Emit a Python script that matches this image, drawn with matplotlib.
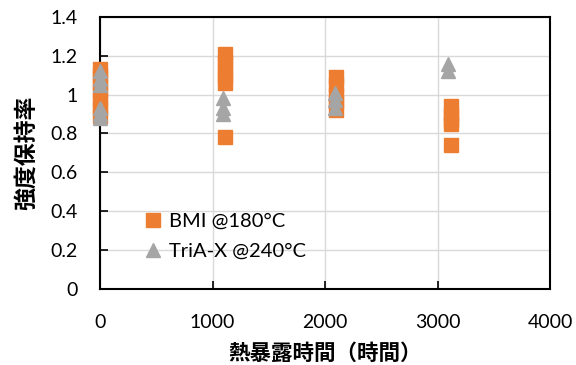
import matplotlib.pyplot as plt
from matplotlib.ticker import FuncFormatter

# data
bmi_hours = [0, 0, 0, 0, 0, 0, 0,
             1110, 1110, 1110, 1110, 1110, 1110,
             2100, 2100, 2100, 2100, 2100,
             3120, 3120, 3120, 3120, 3120]
bmi_ratio = [1.13, 1.10, 1.06, 1.02, 0.97, 0.93, 0.89,
             1.21, 1.17, 1.13, 1.09, 1.06, 0.78,
             1.09, 1.05, 1.00, 0.96, 0.92,
             0.94, 0.90, 0.87, 0.85, 0.74]

tria_hours = [0, 0, 0, 0, 0, 0,
              1090, 1090, 1090,
              2090, 2090, 2090,
              3090, 3090]
tria_ratio = [1.12, 1.08, 1.05, 0.93, 0.90, 0.88,
              0.98, 0.93, 0.90,
              1.01, 0.97, 0.93,
              1.16, 1.12]

x_ticks = [0, 1000, 2000, 3000, 4000]
y_ticks = [0, 0.2, 0.4, 0.6, 0.8, 1.0, 1.2, 1.4]

plt.rcParams['font.family'] = ['Lato', 'DejaVu Sans']

fig = plt.figure(figsize=(5.76, 3.65), dpi=100)
ax = fig.add_axes([0.1736, 0.2093, 0.7813, 0.7441])

ax.plot(bmi_hours, bmi_ratio, linestyle='none', marker='s', markersize=10.6,
        color='#ed7d31', label='BMI @180°C', zorder=3, clip_on=False)
ax.plot(tria_hours, tria_ratio, linestyle='none', marker='^', markersize=10.6,
        color='#a5a5a5', label='TriA-X @240°C', zorder=4, clip_on=False)

ax.set_xlim(0, 4000)
ax.set_ylim(0, 1.4)
ax.set_xticks(x_ticks)
ax.set_yticks(y_ticks)
ax.yaxis.set_major_formatter(FuncFormatter(lambda v, p: '%g' % v))
ax.grid(True, color='#d9d9d9', linewidth=1)
ax.set_axisbelow(True)
for s in ax.spines.values():
    s.set_linewidth(1.5)
    s.set_color('black')
ax.tick_params(direction='in', length=6, width=1.2, labelsize=14)
ax.tick_params(axis='x', pad=18)
ax.tick_params(axis='y', pad=16)

jp = ['Noto Sans CJK JP', 'DejaVu Sans']
ax.set_xlabel('熱暴露時間（時間）', family=jp, fontsize=15.5, fontweight='bold', labelpad=9)
ax.set_ylabel('強度保持率', family=jp, fontsize=16.5, fontweight='bold', labelpad=9)

ax.legend(loc='upper left', bbox_to_anchor=(0.09, 0.28), frameon=False,
          fontsize=14.5, handletextpad=0.2, borderaxespad=0, labelspacing=0.65,
          handlelength=1.2, borderpad=0)

fig.savefig('out.png', dpi=100)
